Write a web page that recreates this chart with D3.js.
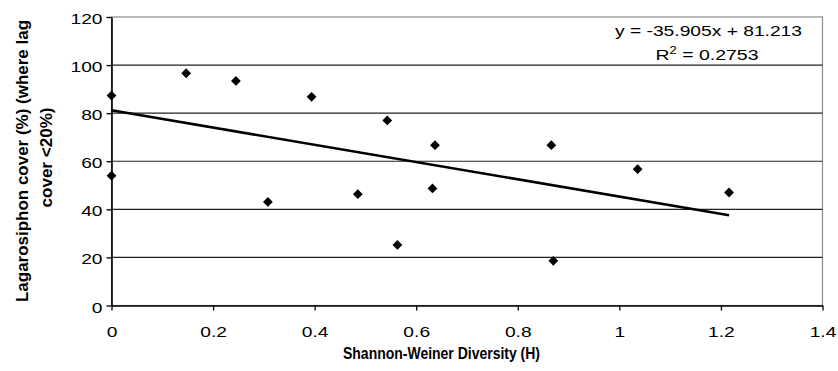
<!DOCTYPE html>
<html>
<head>
<meta charset="utf-8">
<script src="https://cdn.jsdelivr.net/npm/d3@7"></script>
<style>
  html, body { margin: 0; padding: 0; background: #fff; }
  svg { display: block; font-family: "Liberation Sans", Arial, sans-serif; }
</style>
</head>
<body>
<svg id="chart" width="838" height="371"></svg>
<script>
// Shannon-Weiner diversity (H) of each site
const diversity = [0, 0, 0.147, 0.245, 0.394, 0.308, 0.543, 0.637, 0.485, 0.632, 0.563, 0.866, 0.870, 1.036, 1.216];
// Lagarosiphon cover (%) at the same sites
const cover = [87.3, 54.0, 96.6, 93.4, 86.8, 43.1, 77.0, 66.7, 46.3, 48.7, 25.2, 66.7, 18.6, 56.7, 47.0];

// Linear trend line fitted to the points
const trendSlope = -35.905;
const trendIntercept = 81.213;
const trendR2 = 0.2753;

const xTicks = [0, 0.2, 0.4, 0.6, 0.8, 1, 1.2, 1.4];
const yTicks = [0, 20, 40, 60, 80, 100, 120];

const xTitle = "Shannon-Weiner Diversity (H)";
const yTitleLines = ["Lagarosiphon cover (%) (where lag", "cover <20%)"];

const svg = d3.select("#chart");
const plotL = 111.5, plotR = 822.5, plotT = 17, plotB = 305.5;

const x = d3.scaleLinear().domain([0, 1.4]).range([plotL, plotR]);
const y = d3.scaleLinear().domain([0, 120]).range([plotB, plotT]);

// plot-area frame (grey) and horizontal gridlines
svg.append("rect")
  .attr("x", plotL).attr("y", plotT)
  .attr("width", plotR - plotL).attr("height", plotB - plotT)
  .attr("fill", "none").attr("stroke", "#8c8c8c").attr("stroke-width", 1.2);

svg.append("g").selectAll("line")
  .data(yTicks.filter(v => v > 0 && v < 120))
  .join("line")
  .attr("x1", plotL).attr("x2", plotR)
  .attr("y1", d => y(d)).attr("y2", d => y(d))
  .attr("stroke", "#222").attr("stroke-width", 1.1);

// stretch tick labels horizontally the way the chart renders them
function widen(sel, k) {
  sel.each(function () {
    const w = this.getComputedTextLength();
    d3.select(this).attr("textLength", w * k).attr("lengthAdjust", "spacingAndGlyphs");
  });
}

// x axis
const gx = svg.append("g")
  .attr("transform", `translate(0,${plotB})`)
  .call(d3.axisBottom(x).tickValues(xTicks).tickFormat(d3.format("~g")).tickSize(5).tickSizeOuter(0));
gx.select(".domain").attr("stroke", "#000").attr("stroke-width", 1.6);
gx.selectAll(".tick line").attr("stroke", "#000").attr("stroke-width", 1.3);
gx.selectAll(".tick text")
  .attr("y", 31.5).attr("dy", null)
  .attr("font-size", 15).attr("font-family", "Liberation Sans, Arial, sans-serif")
  .attr("fill", "#000")
  .call(widen, 1.28);

// y axis
const gy = svg.append("g")
  .attr("transform", `translate(${plotL},0)`)
  .call(d3.axisLeft(y).tickValues(yTicks).tickSize(5).tickSizeOuter(0).tickPadding(8));
gy.select(".domain").attr("stroke", "#000").attr("stroke-width", 1.6);
gy.selectAll(".tick line").attr("stroke", "#000").attr("stroke-width", 1.3);
gy.selectAll(".tick text")
  .attr("dy", null).attr("y", 6.5).attr("x", -9)
  .attr("font-size", 15).attr("font-family", "Liberation Sans, Arial, sans-serif")
  .attr("fill", "#000")
  .call(widen, 1.28);

// trend line over the observed range of H
const xMin = d3.min(diversity), xMax = d3.max(diversity);
svg.append("line")
  .attr("x1", x(xMin)).attr("y1", y(trendSlope * xMin + trendIntercept))
  .attr("x2", x(xMax)).attr("y2", y(trendSlope * xMax + trendIntercept))
  .attr("stroke", "#000").attr("stroke-width", 2.6);

// data points as diamonds
const pts = diversity.map((d, i) => ({ h: d, c: cover[i] }));
svg.append("g").selectAll("path")
  .data(pts)
  .join("path")
  .attr("d", d3.symbol(d3.symbolSquare, 48))
  .attr("transform", d => `translate(${x(d.h)},${y(d.c)}) rotate(45)`)
  .attr("fill", "#000");

// regression equation
const eq = svg.append("g").attr("font-size", 15).attr("fill", "#000").attr("text-anchor", "middle");
const interceptSign = trendIntercept >= 0 ? "+" : "-";
eq.append("text")
  .attr("x", 708.5).attr("y", 36)
  .attr("textLength", 187).attr("lengthAdjust", "spacingAndGlyphs")
  .text(`y = ${trendSlope}x ${interceptSign} ${Math.abs(trendIntercept)}`);
const r2 = eq.append("text")
  .attr("x", 707).attr("y", 60)
  .attr("textLength", 103).attr("lengthAdjust", "spacingAndGlyphs");
r2.append("tspan").text("R");
r2.append("tspan").attr("font-size", 10).attr("dy", -6).text("2");
r2.append("tspan").attr("dy", 6).text(` = ${trendR2}`);

// axis titles
svg.append("text")
  .attr("x", 441.5).attr("y", 358.5)
  .attr("text-anchor", "middle").attr("font-size", 16).attr("font-weight", "bold")
  .attr("textLength", 197).attr("lengthAdjust", "spacingAndGlyphs")
  .text(xTitle);

const yt = svg.append("g").attr("font-size", 16.5).attr("font-weight", "bold").attr("text-anchor", "middle");
yt.append("text")
  .attr("transform", "translate(27.5,161) rotate(-90)")
  .attr("textLength", 282).attr("lengthAdjust", "spacingAndGlyphs")
  .text(yTitleLines[0]);
yt.append("text")
  .attr("transform", "translate(51.5,157.5) rotate(-90)")
  .attr("textLength", 100).attr("lengthAdjust", "spacingAndGlyphs")
  .text(yTitleLines[1]);
</script>
</body>
</html>
